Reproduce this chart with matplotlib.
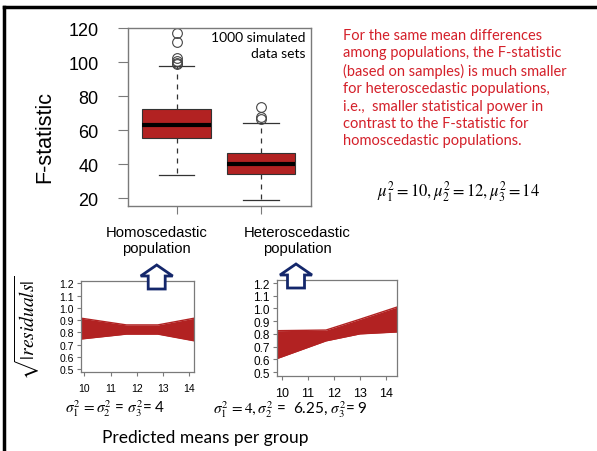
import numpy as np
import matplotlib
matplotlib.use("Agg")
import matplotlib.pyplot as plt
from matplotlib.lines import Line2D
from matplotlib.patches import Polygon
from matplotlib.transforms import ScaledTranslation

plt.rcParams['mathtext.fontset'] = 'stix'

# F-statistic boxplots
groups = ['Homoscedastic\npopulation', 'Heteroscedastic\npopulation']
q1 = [55.6, 34.3]
med = [63.2, 40.0]
q3 = [72.5, 46.5]
whislo = [33.8, 19.2]
whishi = [98.0, 64.2]
fliers = [[98.8, 99.6, 100.8, 102.6, 112.2, 117.0], [66.4, 67.6, 74.0]]
f_ticks = [20, 40, 60, 80, 100, 120]

# residual bands: envelope of the simulated smoother lines
homo_x = [9.87, 11.6, 12.8, 14.19]
homo_hi = [0.915, 0.86, 0.86, 0.915]
homo_lo = [0.745, 0.785, 0.785, 0.73]
het_x = [9.81, 11.7, 13.0, 14.41]
het_hi = [0.825, 0.83, 0.915, 1.01]
het_lo = [0.605, 0.745, 0.80, 0.815]
res_ticks = [0.5, 0.6, 0.7, 0.8, 0.9, 1.0, 1.1, 1.2]
mean_ticks = [10, 11, 12, 13, 14]

red = '#b22222'
grey = '#7a7a7a'
navy = '#14276b'
calibri = 'Lato'

fig = plt.figure(figsize=(5.97, 4.52), dpi=100)
W, H = 597, 452

def px(x0, y0, x1, y1):
    # pixel box (top-left origin) -> figure fraction rect
    return [x0 / W, 1 - y1 / H, (x1 - x0) / W, (y1 - y0) / H]

# ---- boxplot of F statistics
ax = fig.add_axes(px(127.7, 28.5, 310.7, 206.5))
stats = []
for i, g in enumerate(groups):
    stats.append(dict(label=g, q1=q1[i], med=med[i], q3=q3[i],
                      whislo=whislo[i], whishi=whishi[i], fliers=fliers[i]))
ax.bxp(stats, positions=[1, 2], widths=0.81, capwidths=0.42, patch_artist=True,
       boxprops=dict(facecolor=red, edgecolor='#333333', linewidth=0.8),
       medianprops=dict(color='black', linewidth=3),
       whiskerprops=dict(color='#333333', linestyle=(0, (4, 4)), linewidth=0.9),
       capprops=dict(color='#333333', linewidth=0.9),
       flierprops=dict(marker='o', markerfacecolor='none', markeredgecolor='#444444',
                       markersize=7, markeredgewidth=0.8))
ax.set_xlim(0.42, 2.59)
ax.set_ylim(15.8, 120.5)
ax.set_yticks(f_ticks)
ax.tick_params(axis='y', labelsize=13, length=7, pad=14, color=grey)
ax.tick_params(axis='x', labelsize=10.7, length=6, pad=8, color=grey)
for lbl in ax.get_yticklabels():
    lbl.set_family('Liberation Sans')
offsets = [-0.2, 0.36]
for lbl, dx in zip(ax.get_xticklabels(), offsets):
    lbl.set_family('Liberation Sans')
    lbl.set_linespacing(1.15)
    lbl.set_transform(lbl.get_transform() + ScaledTranslation(dx, 0, fig.dpi_scale_trans))
for s in ax.spines.values():
    s.set_color(grey)
    s.set_linewidth(1)
ax.set_ylabel('F-statistic', fontsize=15.5, family='Liberation Sans')
ax.yaxis.set_label_coords(-0.455 + 11 / 183, 0.39)
ax.text(0.97, 0.98, '1000 simulated\ndata sets', transform=ax.transAxes, ha='right', va='top',
        fontsize=10, family=calibri, linespacing=1.35)

# ---- residual panels
def resid_panel(rect, x, hi, lo, xlim, ylim, ysize, xsize):
    a = fig.add_axes(rect)
    a.fill_between(x, lo, hi, color=red, linewidth=0)
    a.plot(x, hi, color=red, linewidth=1)
    a.plot(x, lo, color=red, linewidth=1)
    a.set_xlim(*xlim)
    a.set_ylim(*ylim)
    a.set_xticks(mean_ticks)
    a.set_yticks(res_ticks)
    a.set_yticklabels(['%.1f' % v for v in res_ticks])
    a.tick_params(axis='y', labelsize=ysize, length=3, pad=2, color=grey)
    a.tick_params(axis='x', labelsize=xsize, length=3, pad=5, color=grey)
    for l in a.get_xticklabels() + a.get_yticklabels():
        l.set_family('Liberation Sans')
    for s in a.spines.values():
        s.set_color(grey)
        s.set_linewidth(0.9)
    return a

ax1 = resid_panel(px(81, 281.7, 194.3, 373.3), homo_x, homo_hi, homo_lo,
                  (9.87, 14.19), (0.473, 1.221), 7.5, 7.5)
ax2 = resid_panel(px(276.7, 280.7, 396.7, 376.7), het_x, het_hi, het_lo,
                  (9.81, 14.41), (0.471, 1.226), 8.5, 9)

fig.text(27 / W, 1 - 328 / H, r'$\sqrt{|residuals|}$', rotation=90, ha='center', va='center',
         fontsize=14)

# ---- annotations
red_txt = ('For the same mean differences\namong populations, the F-statistic\n'
           '(based on samples) is much smaller\nfor heteroscedastic populations,\n'
           'i.e.,  smaller statistical power in\ncontrast to the F-statistic for\n'
           'homoscedastic populations.')
fig.text(343 / W, 1 - 29 / H, red_txt, ha='left', va='top', color='#d4202a',
         fontsize=10.5, family=calibri, linespacing=1.3)
fig.text(459 / W, 1 - 192 / H, r'$\mu_1^2 = 10, \mu_2^2 = 12, \mu_3^2 = 14$',
         ha='center', va='center', fontsize=12)
fig.text(115 / W, 1 - 409 / H, r'$\sigma_1^2\, = \sigma_2^2$ = $\sigma_3^2$= 4',
         ha='center', va='center', fontsize=11, family=calibri)
fig.text(290 / W, 1 - 410 / H, r'$\sigma_1^2\, = 4, \sigma_2^2$ =  6.25, $\sigma_3^2$= 9',
         ha='center', va='center', fontsize=11, family=calibri)
fig.text(205 / W, 1 - 438 / H, 'Predicted means per group', ha='center', va='center',
         fontsize=12.5, family=calibri)

# hollow block arrows pointing up at the boxplot labels
def up_arrow(cx, top, bottom):
    hw, sw, hh = 16, 8.5, 11
    pts = [(cx, top), (cx + hw, top + hh), (cx + sw, top + hh), (cx + sw, bottom),
           (cx - sw, bottom), (cx - sw, top + hh), (cx - hw, top + hh)]
    pts = [(x / W, 1 - y / H) for x, y in pts]
    fig.patches.append(Polygon(pts, closed=True, facecolor='white', edgecolor=navy,
                               linewidth=2, joinstyle='miter', transform=fig.transFigure))

up_arrow(156.7, 266, 290)
up_arrow(296, 265, 289)

# slide frame (top and left edges)
fig.lines.append(Line2D([4 / W, 1], [1 - 8 / H, 1 - 8 / H], color='black', linewidth=2.5,
                        transform=fig.transFigure))
fig.lines.append(Line2D([4 / W, 4 / W], [0, 1 - 8 / H], color='black', linewidth=2.5,
                        transform=fig.transFigure))

fig.savefig('out.png', dpi=100)
